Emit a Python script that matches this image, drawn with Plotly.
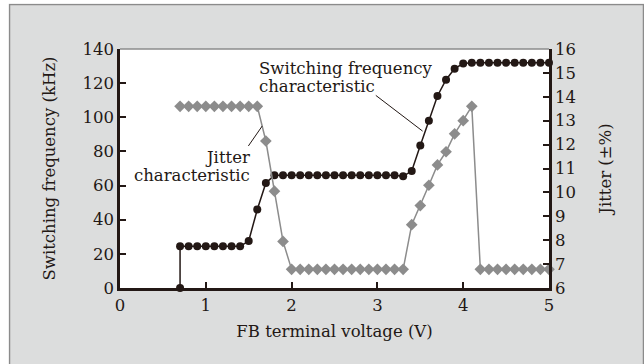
import plotly.graph_objects as go

# ---- data ----
freq_volt = [0.7, 0.7, 0.8, 0.9, 1.0, 1.1, 1.2, 1.3, 1.4, 1.5, 1.6, 1.7, 1.8, 1.9,
             2.0, 2.1, 2.2, 2.3, 2.4, 2.5, 2.6, 2.7, 2.8, 2.9, 3.0, 3.1, 3.2, 3.3,
             3.4, 3.5, 3.6, 3.7, 3.8, 3.9, 4.0, 4.1, 4.2, 4.3, 4.4, 4.5, 4.6, 4.7,
             4.8, 4.9, 5.0]
freq_khz = [0, 24.5, 24.5, 24.5, 24.5, 24.5, 24.5, 24.5, 24.5, 27.5, 46, 61.5, 66, 66,
            66, 66, 66, 66, 66, 66, 66, 66, 66, 66, 66, 66, 66, 65.5,
            68.5, 83.5, 98, 112.5, 122, 128.5, 131.5, 132, 132, 132, 132, 132, 132, 132,
            132, 132, 132]

jit_volt = [0.7, 0.8, 0.9, 1.0, 1.1, 1.2, 1.3, 1.4, 1.5, 1.6, 1.7, 1.8, 1.9,
            2.0, 2.1, 2.2, 2.3, 2.4, 2.5, 2.6, 2.7, 2.8, 2.9, 3.0, 3.1, 3.2, 3.3,
            3.4, 3.5, 3.6, 3.7, 3.8, 3.9, 4.0, 4.1, 4.2, 4.3, 4.4, 4.5, 4.6, 4.7,
            4.8, 4.9, 5.0]
jit_pct = [13.6, 13.6, 13.6, 13.6, 13.6, 13.6, 13.6, 13.6, 13.6, 13.6, 12.15, 10.05, 7.95,
           6.78, 6.78, 6.78, 6.78, 6.78, 6.78, 6.78, 6.78, 6.78, 6.78, 6.78, 6.78, 6.78, 6.78,
           8.65, 9.45, 10.3, 11.15, 11.7, 12.45, 13.0, 13.6, 6.78, 6.78, 6.78, 6.78, 6.78, 6.78,
           6.78, 6.78, 6.78]

x_ticks = [0, 1, 2, 3, 4, 5]
y_ticks = [0, 20, 40, 60, 80, 100, 120, 140]
y2_ticks = [6, 7, 8, 9, 10, 11, 12, 13, 14, 15, 16]

DARK = "#231815"
GRAY = "#8c8c8c"
BG = "#dcdddd"
FONT = "DejaVu Serif"
FS = 16.5

fig = go.Figure()
fig.add_trace(go.Scatter(
    x=freq_volt, y=freq_khz, mode="lines+markers",
    line=dict(color=DARK, width=1.5),
    marker=dict(symbol="circle", size=8, color=DARK),
    cliponaxis=False, showlegend=False, hoverinfo="skip"))
fig.add_trace(go.Scatter(
    x=jit_volt, y=jit_pct, yaxis="y2", mode="lines+markers",
    line=dict(color=GRAY, width=1.5),
    marker=dict(symbol="diamond", size=9, color=GRAY),
    cliponaxis=False, showlegend=False, hoverinfo="skip"))

axis_common = dict(showgrid=False, zeroline=False, showline=True, linecolor=DARK,
                   linewidth=2.5, ticks="inside", ticklen=6, tickwidth=1.5,
                   tickcolor=DARK, tickfont=dict(family=FONT, size=FS, color=DARK))

fig.update_layout(
    width=644, height=364,
    margin=dict(l=120, r=95, t=49, b=76),
    paper_bgcolor=BG, plot_bgcolor="white",
    font=dict(family=FONT, size=FS, color=DARK),
    xaxis=dict(range=[0, 5], tickvals=x_ticks, ticktext=[str(v) for v in x_ticks],
               title=dict(text="FB terminal voltage (V)", font=dict(family=FONT, size=FS, color=DARK), standoff=12),
               **axis_common),
    yaxis=dict(range=[0, 140], tickvals=y_ticks, ticktext=[str(v) for v in y_ticks],
               title=dict(text="Switching frequency (kHz)", font=dict(family=FONT, size=FS, color=DARK), standoff=23),
               **axis_common),
    yaxis2=dict(range=[6, 16], tickvals=y2_ticks, ticktext=[str(v) for v in y2_ticks],
                overlaying="y", side="right",
                title=dict(text="Jitter (±%)", font=dict(family=FONT, size=FS, color=DARK), standoff=25),
                **axis_common),
    shapes=[
        dict(type="line", xref="paper", yref="paper", x0=0, x1=1, y0=1, y1=1,
             line=dict(color="#8b8b8b", width=1.5), layer="above"),
        dict(type="rect", xref="paper", yref="paper",
             x0=(9.5 - 120) / 429, x1=(643.5 - 120) / 429,
             y0=(288 - 372) / 239, y1=(288 - 4.5) / 239,
             line=dict(color="#8b8b8b", width=1.5), fillcolor="rgba(0,0,0,0)", layer="above"),
        dict(type="rect", xref="paper", yref="paper",
             x0=(0 - 120) / 429, x1=(8.7 - 120) / 429,
             y0=(288 - 372) / 239, y1=(288 + 5) / 239,
             line=dict(width=0), fillcolor="white", layer="above"),
        dict(type="rect", xref="paper", yref="paper",
             x0=(0 - 120) / 429, x1=(650 - 120) / 429,
             y0=(288 - 3.7) / 239, y1=(288 + 5) / 239,
             line=dict(width=0), fillcolor="white", layer="above"),
    ],
    annotations=[
        dict(text="Switching frequency", x=1.593, y=128.6, xref="x", yref="y",
             xanchor="left", yanchor="middle", showarrow=False),
        dict(text="characteristic", x=1.593, y=117.8, xref="x", yref="y",
             xanchor="left", yanchor="middle", showarrow=False),
        dict(text="Jitter", x=1.535, y=76.2, xref="x", yref="y",
             xanchor="right", yanchor="middle", showarrow=False),
        dict(text="characteristic", x=1.535, y=65.8, xref="x", yref="y",
             xanchor="right", yanchor="middle", showarrow=False),
        dict(text="", x=3.527, y=91.9, ax=2.964, ay=113.5, xref="x", yref="y",
             axref="x", ayref="y", showarrow=True, arrowhead=0, arrowwidth=1, arrowcolor=DARK),
        dict(text="", x=1.658, y=12.78, ax=1.484, ay=11.88, xref="x", yref="y2",
             axref="x", ayref="y2", showarrow=True, arrowhead=0, arrowwidth=1, arrowcolor=DARK),
    ],
)

fig.write_html("out.html")
